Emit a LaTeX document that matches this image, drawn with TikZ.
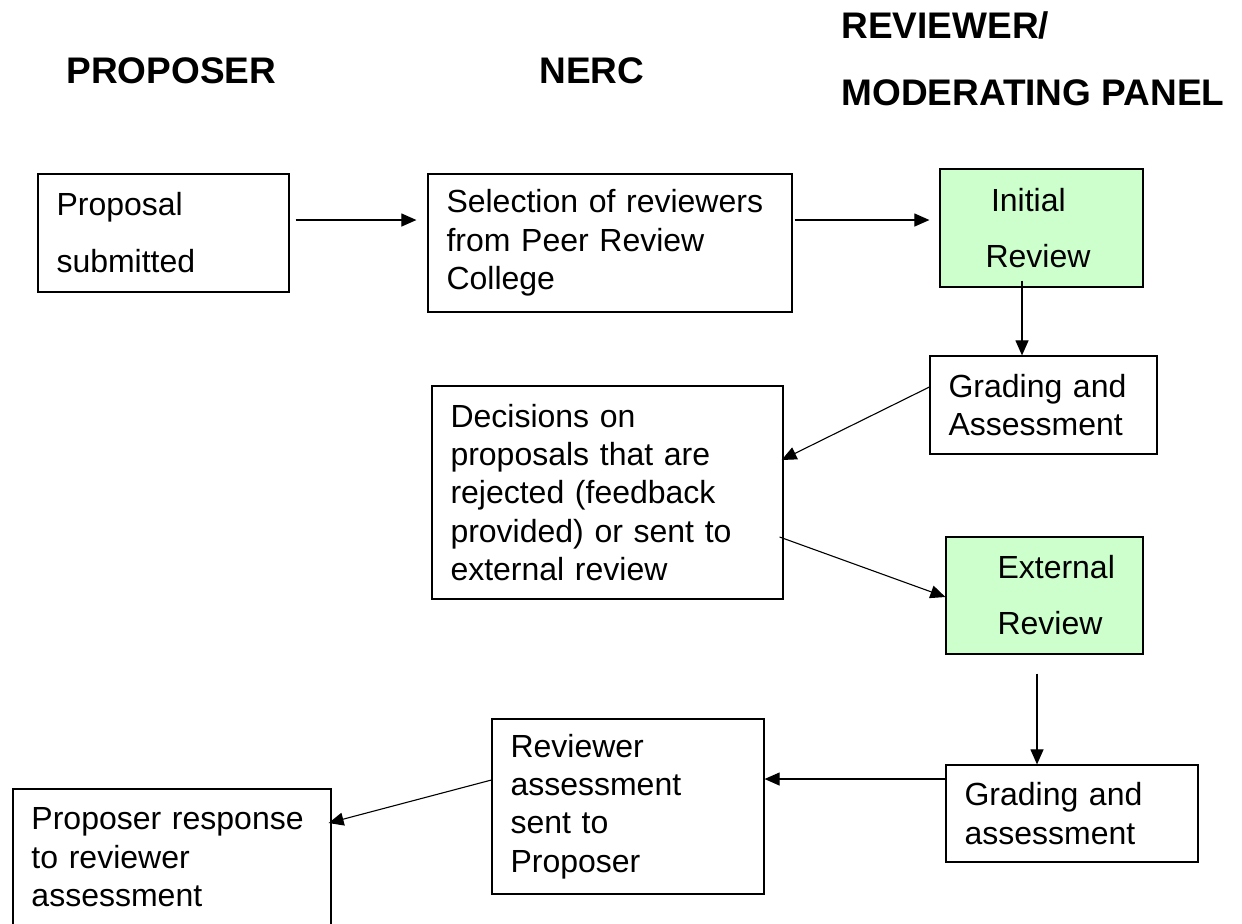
\documentclass[tikz,border=0pt]{standalone}
\usepackage{fontspec}
\setmainfont{Liberation Sans}
\usetikzlibrary{arrows.meta,positioning}
\definecolor{paleGreen}{HTML}{CCFFCC}

\begin{document}
\begin{tikzpicture}[node distance=2cm,on grid,
    >={Triangle[length=7.5pt,width=6.5pt]},
    stage/.style={draw, line width=0.6pt, inner xsep=9.25pt, align=left,
        font=\fontsize{16}{19.2}\selectfont},
    reviewstage/.style={stage, fill=paleGreen, font=\fontsize{16}{28}\selectfont},
    heading/.style={anchor=base west, inner sep=0pt,
        font=\fontsize{18.5}{22}\selectfont\bfseries},
    flow/.style={->, line width=0.55pt}]
    \useasboundingbox (0,0) rectangle (621pt,-461.5pt);

    % column headings
    \node[heading] (hprop)  at (33pt,-41.5pt)    {PROPOSER};
    \node[heading] (hnerc)  at (269.5pt,-41.5pt) {NERC};
    \node[heading] (hrev)   at (420.5pt,-19pt)   {REVIEWER/};
    \node[heading] (hpanel) at (420.5pt,-52.5pt) {MODERATING PANEL};

    \node[stage, text width=107pt, minimum height=59pt, font=\fontsize{16}{28.5}\selectfont]
        (prop) at (81.75pt,-116.5pt) {Proposal\\submitted};
    \node[stage, text width=163.5pt, minimum height=69pt]
        (sel) [below right=5pt and 223.25pt of prop] {Selection of reviewers\\from Peer Review\\College};
    \node[reviewstage, text width=83pt, minimum height=59pt]
        (init) [above right=7.5pt and 215.75pt of sel] {\hspace*{16.25pt}Initial\\\hspace*{13.5pt}Review};
    \node[stage, text width=95pt, minimum height=49pt]
        (gradeA) [below right=88.5pt and 1pt of init] {Grading and\\Assessment};
    \node[stage, text width=157pt, minimum height=106.5pt]
        (dec) [below left=124.75pt and 1.25pt of sel] {Decisions on\\proposals that are\\rejected (feedback\\provided) or sent to\\external review};
    \node[reviewstage, text width=80pt, minimum height=58.5pt]
        (ext) [below right=95.25pt and 0.5pt of gradeA] {\hspace*{16.5pt}External\\\hspace*{16.5pt}Review};
    \node[stage, text width=107.5pt, minimum height=48.5pt]
        (gradeB) [below right=109pt and 13.75pt of ext] {Grading and\\assessment};
    \node[stage, text width=117.5pt, minimum height=87.5pt]
        (rev) [below right=157pt and 10.25pt of dec] {Reviewer\\assessment\\sent to\\Proposer};
    \node[stage, text width=140.5pt, minimum height=68.5pt]
        (resp) [below right=312.25pt and 4.25pt of prop] {Proposer response\\to reviewer\\assessment};

    \path[flow]
    ([xshift=3pt,yshift=6.5pt]prop.east)       edge ([xshift=-5.5pt,yshift=11.5pt]sel.west)
    ([xshift=1pt,yshift=11.5pt]sel.east)       edge ([xshift=-5pt,yshift=4pt]init.west)
    ([xshift=-9.75pt,yshift=3.5pt]init.south)  edge ([xshift=-10.75pt]gradeA.north)
    ([yshift=9pt]gradeA.west)                  edge ([xshift=-1pt,yshift=16.25pt]dec.east)
    ([xshift=-2pt,yshift=-22.25pt]dec.east)    edge ([yshift=-0.75pt]ext.west)
    ([xshift=-3.75pt,yshift=-9.5pt]ext.south)  edge ([xshift=-17.5pt]gradeB.north)
    ([yshift=17.25pt]gradeB.west)              edge ([yshift=13.75pt]rev.east)
    ([yshift=13.25pt]rev.west)                 edge ([xshift=-1.5pt,yshift=17.25pt]resp.east)
    ;
\end{tikzpicture}
\end{document}
